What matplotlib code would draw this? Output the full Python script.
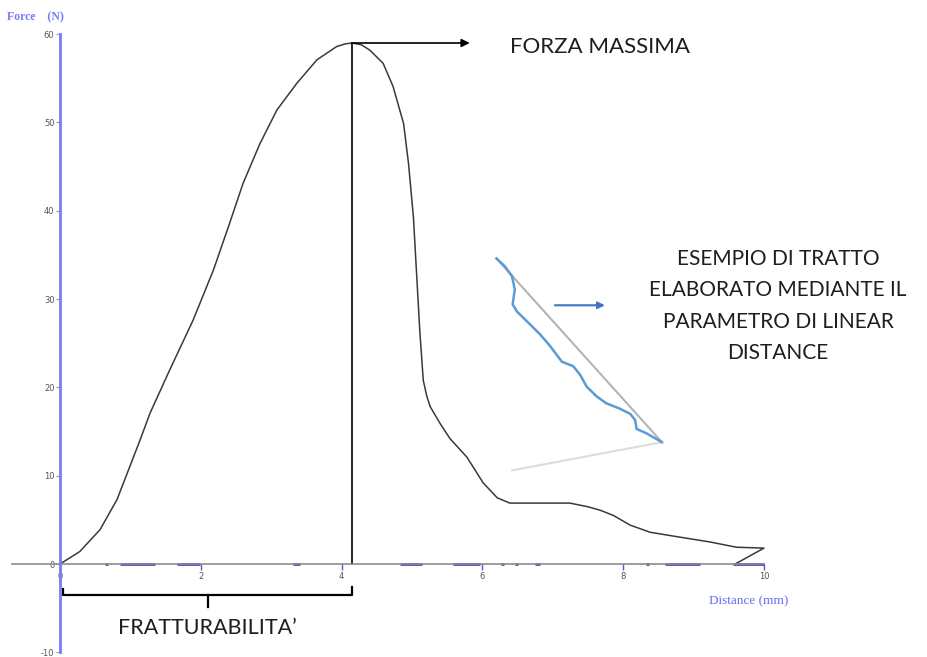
import matplotlib
matplotlib.use("Agg")
import matplotlib.pyplot as plt

plt.rcParams['axes.unicode_minus'] = False

# texture analyser trace: distance (mm) vs force (N)
distance = [0.00, 0.28, 0.57, 0.81, 0.99, 1.14, 1.28, 1.56, 1.89, 2.18, 2.41,
            2.60, 2.84, 3.08, 3.36, 3.65, 3.93, 4.05, 4.15, 4.28, 4.40, 4.59,
            4.73, 4.88, 4.95, 5.02, 5.07, 5.11, 5.16, 5.21, 5.26, 5.40, 5.54,
            5.78, 6.01, 6.21, 6.39, 6.82, 7.24, 7.49, 7.67, 7.86, 8.10, 8.38,
            8.76, 9.23, 9.61, 10.00, 9.59]
force = [0.0, 1.4, 3.9, 7.3, 11.0, 14.1, 17.1, 22.0, 27.6, 33.3, 38.6,
         43.1, 47.6, 51.4, 54.4, 57.1, 58.6, 58.9, 59.0, 58.8, 58.2, 56.7,
         54.1, 49.9, 45.4, 39.3, 32.2, 26.5, 20.8, 19.0, 17.8, 15.9, 14.2,
         12.1, 9.2, 7.5, 6.9, 6.9, 6.9, 6.5, 6.1, 5.5, 4.4, 3.6,
         3.1, 2.5, 1.9, 1.8, 0.0]

# baseline noise segments drawn on the x axis
noise_start = [0.64, 0.85, 1.66, 3.31, 4.83, 5.58, 6.27, 6.47, 6.75, 8.32, 8.59, 9.56]
noise_end = [0.68, 1.35, 1.99, 3.41, 5.14, 5.97, 6.31, 6.51, 6.82, 8.36, 9.09, 10.00]

# example of a linear-distance segment
seg_x = [6.20, 6.32, 6.42, 6.46, 6.43, 6.49, 6.63, 6.82, 6.96, 7.13, 7.29,
         7.39, 7.48, 7.62, 7.76, 7.95, 8.10, 8.17, 8.19, 8.33, 8.55]
seg_y = [34.6, 33.7, 32.6, 31.1, 29.4, 28.6, 27.5, 26.0, 24.7, 22.9, 22.4,
         21.4, 20.1, 19.0, 18.2, 17.6, 17.0, 16.3, 15.3, 14.8, 13.8]
chord_x = [6.20, 8.55]
chord_y = [34.6, 13.8]
base_x = [6.42, 8.55]
base_y = [10.6, 13.8]

peak_x = 4.15
peak_y = 59.0

y_ticks = [-10, 0, 10, 20, 30, 40, 50, 60]
x_ticks = [0, 2, 4, 6, 8, 10]

fig = plt.figure(figsize=(9.27, 6.57), dpi=100)
ax = fig.add_axes([0, 0, 1, 1])
ax.set_xlim(-0.852, 12.315)
ax.set_ylim(-10.53, 63.87)

# axes crossing at the origin
for side in ('top', 'right'):
    ax.spines[side].set_visible(False)
ax.spines['left'].set_position(('data', 0))
ax.spines['left'].set_bounds(-10, 60)
ax.spines['left'].set_color('#7b7bf2')
ax.spines['left'].set_linewidth(2)
ax.spines['bottom'].set_position(('data', 0))
ax.spines['bottom'].set_bounds(-0.68, 10)
ax.spines['bottom'].set_color('#8c8c8c')
ax.spines['bottom'].set_linewidth(1.2)

ax.set_yticks(y_ticks)
ax.set_xticks(x_ticks)
ax.tick_params(axis='y', direction='out', length=3, width=0.8, color='#9090e0',
               labelsize=6, labelcolor='#555555', pad=1)
ax.tick_params(axis='x', direction='out', length=4, width=1, color='#5555dd',
               labelsize=6, labelcolor='#555555', pad=2)

ax.text(-0.75, 61.9, 'Force    (N)', family='Liberation Serif', fontsize=8.5,
        fontweight='bold', color='#7b7bf2', va='center')
ax.text(9.22, -4.2, 'Distance (mm)', family='Liberation Serif', fontsize=9.5,
        color='#6b6bee', va='center')

# baseline noise
for s, e in zip(noise_start, noise_end):
    ax.plot([s, e], [0, 0], color='#4848c8', lw=2, solid_capstyle='butt')

# force curve
ax.plot(distance, force, color='#3a3a3a', lw=1.1)

# maximum force marker
ax.plot([peak_x, peak_x], [0, peak_y], color='black', lw=1.2)
ax.annotate('', xy=(5.82, peak_y), xytext=(peak_x, peak_y),
            arrowprops=dict(arrowstyle='-|>', color='black', lw=1.2,
                            mutation_scale=12, shrinkA=0, shrinkB=0))
ax.text(6.39, 58.6, 'FORZA MASSIMA', family='Lato', fontsize=16,
        color='#1e1e1e', va='center')

# bracket under the rising part
ax.plot([0.04, 0.04, peak_x, peak_x], [-2.8, -3.5, -3.5, -2.6], color='black', lw=1.6)
ax.plot([2.1, 2.1], [-3.5, -4.9], color='black', lw=1.6)
ax.text(2.1, -7.3, "FRATTURABILITA’", family='Lato', fontsize=15.5,
        color='#1e1e1e', ha='center', va='center')

# linear distance example
ax.plot(base_x, base_y, color='#dcdcdc', lw=1.5)
ax.plot(chord_x, chord_y, color='#b4b4b4', lw=1.5)
ax.plot(seg_x, seg_y, color='#5b9bd5', lw=1.8)
ax.annotate('', xy=(7.74, 29.3), xytext=(7.03, 29.3),
            arrowprops=dict(arrowstyle='-|>', color='#4472c4', lw=1.5,
                            mutation_scale=10, shrinkA=0, shrinkB=0))
ax.text(10.20, 29.2, 'ESEMPIO DI TRATTO\nELABORATO MEDIANTE IL\nPARAMETRO DI LINEAR\nDISTANCE',
        family='Lato', fontsize=15, color='#1e1e1e', ha='center', va='center',
        linespacing=1.72)

fig.savefig('out.png', dpi=100)
